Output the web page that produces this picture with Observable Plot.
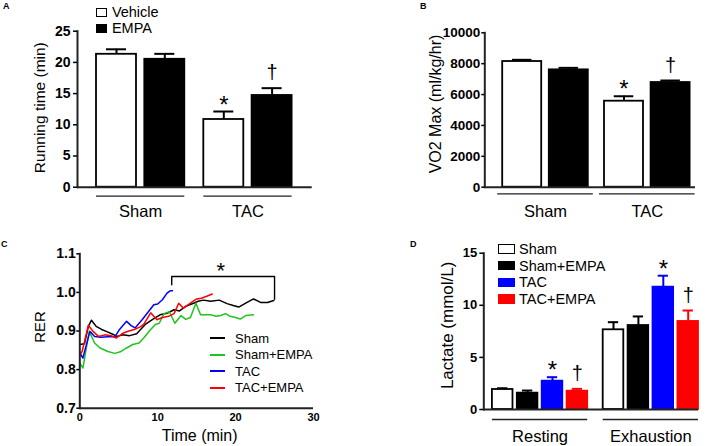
<!DOCTYPE html>
<html>
<head>
<meta charset="utf-8">
<script src="https://cdn.jsdelivr.net/npm/d3@7"></script>
<script src="https://cdn.jsdelivr.net/npm/@observablehq/plot@0.6"></script>
<style>
  html, body { margin: 0; padding: 0; background: #fff; }
  #fig { position: relative; width: 709px; height: 446px; overflow: hidden; background: #fff;
         font-family: Arial, "Liberation Sans", Helvetica, sans-serif; color: #000; }
  .tag { position: absolute; font-weight: bold; font-size: 9px; line-height: 9px; }
  .row { position: absolute; display: flex; align-items: center; white-space: nowrap; }
  .sq { box-sizing: border-box; display: inline-block; }
  .ln { display: inline-block; height: 2px; }
</style>
</head>
<body>
<div id="fig"></div>
<script>
// ---------------- Panel A : running time ----------------
const groupsA = ["Sham", "TAC"];
const treatA = ["Vehicle", "EMPA"];
const colorsA = ["white", "black"];
const runTime = [21.3, 20.5, 10.85, 14.7];
const runErr = [0.8, 0.87, 1.28, 1.17];
const runSig = ["", "", "*", "†"];
const ticksA = [0, 5, 10, 15, 20, 25];

// ---------------- Panel B : VO2 max ----------------
const vo2 = [8140, 7600, 5570, 6780];
const vo2Err = [110, 130, 320, 130];
const vo2Sig = ["", "", "*", "†"];
const ticksB = [0, 2000, 4000, 6000, 8000, 10000];

// ---------------- Panel C : RER over time ----------------
const seriesC = ["Sham", "Sham+EMPA", "TAC", "TAC+EMPA"];
const colorsC = ["#000000", "#1fc41f", "#0000ff", "#ff0000"];
const timeSham = [0, 0.6, 1.1, 1.5, 2.1, 2.8, 3.4, 4.3, 4.7, 5.5, 6.4, 7.3, 8.4, 9.5, 10.3, 11.2, 12.1, 12.8, 13.6, 14.6, 15.3, 15.9, 16.8, 17.9, 18.9, 19.7, 20.4, 21.3, 22.3, 23.2, 24.1, 24.9];
const rerSham  = [0.865, 0.867, 0.912, 0.928, 0.912, 0.904, 0.899, 0.891, 0.886, 0.890, 0.888, 0.893, 0.917, 0.932, 0.942, 0.946, 0.955, 0.952, 0.964, 0.972, 0.978, 0.980, 0.977, 0.980, 0.971, 0.966, 0.962, 0.972, 0.983, 0.974, 0.974, 0.979];
const timeShamE = [0, 0.4, 1.2, 1.9, 2.6, 3.6, 4.5, 5.2, 6.0, 6.8, 7.6, 8.2, 9.1, 9.7, 10.2, 10.8, 11.5, 12.2, 13.0, 13.6, 14.2, 14.9, 15.5, 16.2, 16.8, 17.5, 18.1, 18.7, 19.3, 20.0, 20.6, 21.3, 22.3];
const rerShamE  = [0.817, 0.804, 0.899, 0.869, 0.856, 0.847, 0.842, 0.846, 0.856, 0.865, 0.869, 0.882, 0.904, 0.917, 0.920, 0.945, 0.950, 0.920, 0.940, 0.930, 0.935, 0.972, 0.942, 0.942, 0.942, 0.938, 0.940, 0.945, 0.938, 0.935, 0.931, 0.940, 0.942];
const timeTAC = [0, 0.4, 1.3, 1.9, 2.7, 3.6, 4.5, 5.1, 6.0, 6.6, 7.1, 8.0, 8.85, 9.5, 10.0, 10.6, 11.2, 11.6, 11.9];
const rerTAC  = [0.843, 0.830, 0.899, 0.886, 0.884, 0.885, 0.885, 0.904, 0.925, 0.914, 0.908, 0.929, 0.951, 0.968, 0.970, 0.981, 0.998, 1.004, 1.004];
const timeTACE = [0, 0.3, 1.1, 1.7, 2.4, 3.2, 4.0, 4.7, 5.6, 6.3, 7.0, 7.7, 8.2, 9.1, 9.9, 10.6, 11.4, 12.1, 12.7, 13.3, 14.2, 15.0, 15.6, 16.3, 17.0];
const rerTACE  = [0.838, 0.847, 0.915, 0.899, 0.886, 0.890, 0.888, 0.882, 0.895, 0.900, 0.904, 0.910, 0.917, 0.947, 0.929, 0.935, 0.938, 0.945, 0.972, 0.959, 0.972, 0.983, 0.985, 0.990, 0.996];
const bracketT = [11.8, 11.8, 25, 25];
const bracketR = [1.02, 1.041, 1.041, 0.982];
const starCT = [18.1];
const starCR = [1.041];
const ticksCx = [0, 10, 20, 30];
const ticksCy = [0.7, 0.8, 0.9, 1.0, 1.1];

// ---------------- Panel D : lactate ----------------
const groupsD = ["Resting", "Exhaustion"];
const treatD = ["Sham", "Sham+EMPA", "TAC", "TAC+EMPA"];
const colorsD = ["white", "black", "#0000ff", "#ff0000"];
const lactate = [1.92, 1.57, 2.72, 1.76, 7.65, 8.06, 11.74, 8.45];
const lactErr = [0.12, 0.25, 0.38, 0.22, 0.73, 0.87, 1.1, 1.05];
const lactSig = ["", "", "*", "†", "", "", "*", "†"];
const ticksD = [0, 5, 10, 15];

// ======================================================
const FONT = 'Arial, "Liberation Sans", Helvetica, sans-serif';
const AX = "#222";
const fig = document.getElementById("fig");
function place(el, left, top) {
  el.style.position = "absolute";
  el.style.left = left + "px";
  el.style.top = top + "px";
  fig.appendChild(el);
  return el;
}
function tag(txt, left, top) {
  const d = document.createElement("div");
  d.className = "tag"; d.textContent = txt;
  d.style.left = left + "px"; d.style.top = top + "px";
  fig.appendChild(d);
}

function barPanel(o) {
  const k = o.treats.length;
  const rows = [];
  o.groups.forEach((g, gi) => o.treats.forEach((t, ti) => {
    const i = gi * k + ti, c = o.colors[ti];
    rows.push({key: g + " / " + t, group: g, gi, treat: t, value: o.values[i],
      top: o.values[i] + o.errs[i], sig: o.sigs[i], base: 0,
      fill: c, line: c === "white" ? "black" : c});
  }));
  const step = (o.xRange[1] - o.xRange[0]) / (rows.length - o.pad);
  const bw = step * (1 - o.pad);
  const marks = [];
  o.groups.forEach((g, gi) => {
    const sub = rows.filter(r => r.gi === gi);
    const dx = gi === 0 ? -o.shift : o.shift;
    const grp = [{group: g, first: sub[0].key, last: sub[sub.length - 1].key, base: 0}];
    marks.push(
      Plot.barY(sub, {x: "key", y: "value", fill: "fill", stroke: "line", strokeWidth: 1.8, dx}),
      Plot.ruleX(sub, {x: "key", y1: "value", y2: "top", stroke: "line", strokeWidth: 2, dx}),
      Plot.tickY(sub, {x: "key", y: "top", stroke: "line", strokeWidth: 2, insetLeft: bw / 4, insetRight: bw / 4, dx}),
      Plot.text(sub.filter(r => r.sig === "*"), {x: "key", y: "top", text: "sig", lineAnchor: "bottom", dy: 1, fontSize: 24, dx}),
      Plot.text(sub.filter(r => r.sig === "†"), {x: "key", y: "top", text: "sig", lineAnchor: "bottom", dy: -9, fontSize: 20, dx}),
      Plot.ruleY(grp, {x1: "first", x2: "last", y: "base", dy: o.lineDy, stroke: AX, strokeWidth: 1.3, dx,
        insetLeft: o.lineInset, insetRight: o.lineInset}),
      Plot.text(grp, {x: "first", y: "base", text: "group", dy: o.labelDy, dx: dx + step * (k - 1) / 2, fontSize: 16.5})
    );
  });
  marks.push(
    Plot.ruleY([0], {stroke: AX, strokeWidth: 2}),
    Plot.frame({anchor: "left", stroke: AX, strokeWidth: 2}),
    Plot.axisY({ticks: o.ticks, tickSize: o.tickSize, tickPadding: o.tickPadding, fontSize: o.tickFont,
      fontWeight: "bold", label: null, strokeWidth: 1.5, tickFormat: d3.format("d")}),
    Plot.text([o.ylabel], {frameAnchor: "left", textAnchor: "middle", lineAnchor: "middle", rotate: -90,
      dx: o.ylabelDx, dy: o.ylabelDy, fontSize: o.ylabelFont})
  );
  return Plot.plot({
    width: o.width, height: o.height,
    marginLeft: o.ml, marginRight: o.mr, marginTop: o.mt, marginBottom: o.mb,
    x: {type: "band", domain: rows.map(r => r.key), range: o.xRange, paddingInner: o.pad, paddingOuter: 0, round: false, axis: null},
    y: {domain: o.yDomain},
    color: {type: "identity"},
    style: {fontFamily: FONT, background: "transparent", overflow: "visible", color: "black"},
    marks
  });
}

// Panel A
place(barPanel({
  width: 354, height: 223, ml: 77, mr: 42.3, mt: 30.7, mb: 36.3,
  groups: groupsA, treats: treatA, colors: colorsA, values: runTime, errs: runErr, sigs: runSig,
  xRange: [101.35, 286.25], pad: 0.172, shift: 5.35, yDomain: [0, 25], ticks: ticksA,
  tickSize: 4, tickPadding: 3, tickFont: 14, ylabel: "Running time (min)", ylabelDx: -37, ylabelDy: -1.5, ylabelFont: 15.5,
  lineDy: 9, lineInset: 0, labelDy: 24.5
}), 0, 0);

// Panel B
place(barPanel({
  width: 355, height: 223, ml: 130.3, mr: 14, mt: 32.3, mb: 36.3,
  groups: groupsA, treats: treatA, colors: colorsA, values: vo2, errs: vo2Err, sigs: vo2Sig,
  xRange: [152.5, 331.3], pad: 0.163, shift: 4.3, yDomain: [0, 10000], ticks: ticksB,
  tickSize: 3, tickPadding: 1.5, tickFont: 13.5, ylabel: "VO2 Max (ml/kg/hr)", ylabelDx: -48.5, ylabelDy: -6, ylabelFont: 16,
  lineDy: 6.6, lineInset: -5, labelDy: 24.5
}), 354, 0);

// Panel D
place(barPanel({
  width: 355, height: 223, ml: 129.3, mr: 11, mt: 29.7, mb: 37,
  groups: groupsD, treats: treatD, colors: colorsD, values: lactate, errs: lactErr, sigs: lactSig,
  xRange: [143.5, 338.4], pad: 0.173, shift: 5.6, yDomain: [0, 15], ticks: ticksD,
  tickSize: 4, tickPadding: 2.5, tickFont: 13, ylabel: "Lactate (mmol/L)", ylabelDx: -36.6, ylabelDy: -6, ylabelFont: 17,
  lineDy: 10, lineInset: 0, labelDy: 27
}), 354, 223);

// Panel C
const rowsC = [];
[[timeSham, rerSham], [timeShamE, rerShamE], [timeTAC, rerTAC], [timeTACE, rerTACE]].forEach(([T, R], si) => {
  T.forEach((t, i) => rowsC.push({series: seriesC[si], t, rer: R[i]}));
});
const bracketRows = bracketT.map((t, i) => ({t, rer: bracketR[i]}));
const starRows = starCT.map((t, i) => ({t, rer: starCR[i], s: "*"}));
place(Plot.plot({
  width: 354, height: 223, marginLeft: 79.3, marginRight: 41, marginTop: 30.3, marginBottom: 38.3,
  x: {domain: [0, 30]},
  y: {domain: [0.7, 1.1]},
  color: {domain: seriesC, range: colorsC},
  style: {fontFamily: FONT, background: "transparent", overflow: "visible", color: "black"},
  marks: [
    Plot.line(rowsC, {x: "t", y: "rer", z: "series", stroke: "series", strokeWidth: 1.5}),
    Plot.line(bracketRows, {x: "t", y: "rer", stroke: "black", strokeWidth: 1.4}),
    Plot.text(starRows, {x: "t", y: "rer", text: "s", lineAnchor: "bottom", dy: 1, fontSize: 22}),
    Plot.ruleY([0.7], {stroke: AX, strokeWidth: 2}),
    Plot.frame({anchor: "left", stroke: AX, strokeWidth: 2}),
    Plot.axisY({ticks: ticksCy, tickFormat: d3.format(".1f"), tickSize: 3, tickPadding: 1, fontSize: 14, fontWeight: "bold", label: null, strokeWidth: 1.5}),
    Plot.axisX({ticks: ticksCx, tickSize: 0, tickPadding: 5, fontSize: 11, fontWeight: "bold", label: null}),
    Plot.text(["RER"], {frameAnchor: "left", textAnchor: "middle", lineAnchor: "middle", rotate: -90, dx: -39.3, dy: -4, fontSize: 15}),
    Plot.text(["Time (min)"], {frameAnchor: "bottom", textAnchor: "middle", lineAnchor: "middle", dx: 3, dy: 28, fontSize: 16})
  ]
}), 0, 223);

// ---------------- Legends (HTML) ----------------
function swatchLegend(items, colors, o) {
  items.forEach((name, i) => {
    const row = document.createElement("div");
    row.className = "row";
    row.style.left = o.left + "px";
    row.style.top = (o.top + i * o.rowH - o.rowH / 2) + "px";
    row.style.height = o.rowH + "px";
    row.style.fontSize = o.fontSize + "px";
    const sw = document.createElement("span");
    if (o.kind === "line") {
      sw.className = "ln";
      sw.style.width = o.sw + "px";
      sw.style.background = colors[i];
    } else {
      sw.className = "sq";
      sw.style.width = o.sw + "px";
      sw.style.height = o.sh + "px";
      sw.style.background = colors[i];
      sw.style.border = "1.5px solid " + (colors[i] === "white" ? "black" : colors[i]);
    }
    sw.style.marginRight = o.gap + "px";
    const tx = document.createElement("span");
    tx.textContent = name;
    row.appendChild(sw); row.appendChild(tx);
    fig.appendChild(row);
  });
}
swatchLegend(treatA, colorsA, {left: 95.7, top: 12.3, rowH: 16, sw: 11.7, sh: 9, gap: 4.5, fontSize: 14.5});
swatchLegend(treatD, colorsD, {left: 498.3, top: 248.8, rowH: 16.8, sw: 16.7, sh: 9.5, gap: 4, fontSize: 14.5});
swatchLegend(seriesC, colorsC, {left: 210, top: 338.3, rowH: 16.5, sw: 15, gap: 10, fontSize: 13, kind: "line"});

// Panel letters
tag("A", 3, 2);
tag("B", 420, 2);
tag("C", 1, 240);
tag("D", 410, 240);
</script>
</body>
</html>
